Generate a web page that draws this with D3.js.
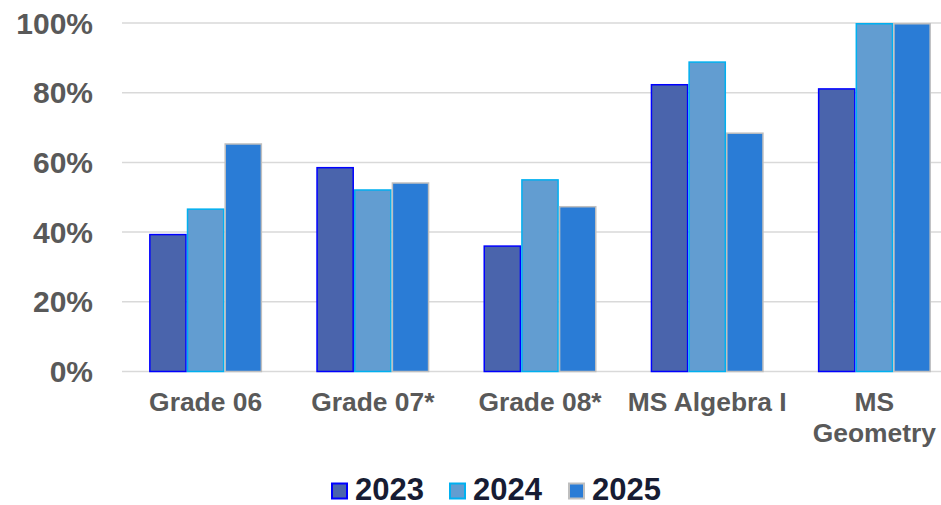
<!DOCTYPE html>
<html>
<head>
<meta charset="utf-8">
<script src="https://cdn.jsdelivr.net/npm/d3@7"></script>
<style>
  html, body { margin: 0; padding: 0; background: #ffffff; overflow: hidden; }
  svg { display: block; font-family: "Liberation Sans", Arial, sans-serif; }
</style>
</head>
<body>
<svg id="chart" width="941" height="505"></svg>
<script>
// ---- data ----
const categories = ["Grade 06", "Grade 07*", "Grade 08*", "MS Algebra I", "MS Geometry"];
const years = ["2023", "2024", "2025"];
const values2023 = [0.395, 0.587, 0.362, 0.825, 0.813];
const values2024 = [0.468, 0.523, 0.552, 0.890, 1.000];
const values2025 = [0.655, 0.543, 0.475, 0.686, 1.000];
const yTicks = [0, 0.2, 0.4, 0.6, 0.8, 1.0];
const tickLabels = ["0%", "20%", "40%", "60%", "80%", "100%"];

const seriesValues = [values2023, values2024, values2025];
const fills = ["#4a64ac", "#629dd1", "#2a7cd6"];
const strokes = ["#0000ff", "#00b0f0", "#bfbfbf"];

const svg = d3.select("#chart");
const plotLeft = 122, plotRight = 958, plotTop = 23, plotBottom = 371.5;

const x = d3.scaleBand().domain(categories).range([plotLeft, plotRight])
  .paddingInner(0.324).paddingOuter(0.162);
const xs = d3.scaleBand().domain(years).range([0, x.bandwidth()]).padding(0);
const y = d3.scaleLinear().domain([0, 1]).range([plotBottom, plotTop]);

// gridlines
svg.append("g").selectAll("line").data(yTicks).join("line")
  .attr("x1", plotLeft).attr("x2", plotRight)
  .attr("y1", d => y(d)).attr("y2", d => y(d))
  .attr("stroke", "#d9d9d9").attr("stroke-width", 1.5);

// y tick labels
svg.append("g").selectAll("text").data(yTicks).join("text")
  .attr("x", 93).attr("y", d => y(d)).attr("dy", "0.35em")
  .attr("text-anchor", "end")
  .attr("font-size", 30).attr("font-weight", "bold").attr("fill", "#595959")
  .text((d, i) => tickLabels[i]);

// bars
years.forEach((yr, si) => {
  svg.append("g").selectAll("rect").data(seriesValues[si]).join("rect")
    .attr("x", (d, i) => x(categories[i]) + xs(yr) + 0.75)
    .attr("y", d => y(d) + 0.75)
    .attr("width", xs.bandwidth() - 1.5)
    .attr("height", d => Math.max(0, plotBottom - y(d) - 0.75))
    .attr("fill", fills[si])
    .attr("stroke", strokes[si]).attr("stroke-width", 1.5);
});

// category labels
const catG = svg.append("g");
categories.forEach(c => {
  const t = catG.append("text")
    .attr("x", x(c) + x.bandwidth() / 2).attr("y", 411)
    .attr("text-anchor", "middle")
    .attr("font-size", 26.4).attr("font-weight", "bold").attr("fill", "#595959");
  const lines = c === "MS Geometry" ? ["MS", "Geometry"] : [c];
  lines.forEach((ln, li) => {
    t.append("tspan").attr("x", x(c) + x.bandwidth() / 2)
      .attr("dy", li === 0 ? 0 : 31).text(ln);
  });
});

// legend
const legendX = [331, 449, 568];
const lg = svg.append("g");
years.forEach((yr, si) => {
  lg.append("rect")
    .attr("x", legendX[si] + 1).attr("y", 483.5)
    .attr("width", 15).attr("height", 15)
    .attr("fill", fills[si]).attr("stroke", strokes[si]).attr("stroke-width", 2);
  lg.append("text")
    .attr("x", legendX[si] + 24).attr("y", 499.5)
    .attr("font-size", 31).attr("font-weight", "bold").attr("fill", "#171c33")
    .text(yr);
});
</script>
</body>
</html>
